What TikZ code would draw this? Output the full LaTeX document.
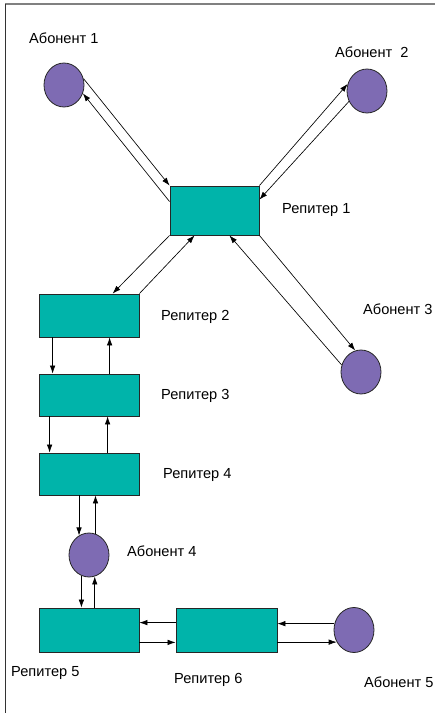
\documentclass[tikz,border=0pt]{standalone}
\usepackage{fontspec}
\setmainfont{Liberation Sans}
\usetikzlibrary{arrows.meta,shapes.geometric}
\definecolor{boxteal}{HTML}{00B4AA}
\definecolor{nodepurple}{HTML}{7E6BB3}
\tikzset{
  rep/.style={draw=black!85,line width=0.8pt,fill=boxteal,rectangle,inner sep=0pt},
  abon/.style={draw=black!85,line width=0.8pt,fill=nodepurple,ellipse,minimum width=40pt,minimum height=44pt,inner sep=0pt},
  lbl/.style={anchor=west,inner sep=0pt,font=\fontsize{14.6}{17}\selectfont},
  arr/.style={line width=0.65pt,-{Latex[length=8pt,width=5.5pt]}},
}
\begin{document}
\begin{tikzpicture}[x=1pt,y=-1pt]
\useasboundingbox (0,0) rectangle (435,713);
\draw[line width=1.5pt,black!50] (5,4) -- (435,4);
\draw[line width=1pt,black!80] (5,4) -- (5,713);
% nodes
\node[rep,minimum width=89pt,minimum height=49pt] (r1) at (214.5,210.5) {};
\node[rep,minimum width=100pt,minimum height=43pt] (r2) at (89,315.5) {};
\node[rep,minimum width=100pt,minimum height=42pt] (r3) at (89,395) {};
\node[rep,minimum width=100pt,minimum height=42pt] (r4) at (89,474) {};
\node[rep,minimum width=100pt,minimum height=44pt] (r5) at (89,630) {};
\node[rep,minimum width=101pt,minimum height=44pt] (r6) at (226.5,630) {};
\node[abon] (a1) at (64,85) {};
\node[abon] (a2) at (367,91) {};
\node[abon] (a3) at (361,372) {};
\node[abon] (a4) at (89,555) {};
\node[abon,minimum height=45pt] (a5) at (354,630) {};
% labels
\node[lbl] (la1) at (29,38) {Абонент 1};
\node[lbl] (la2) at (335,52) {Абонент~ 2};
\node[lbl] (la3) at (363,309) {Абонент 3};
\node[lbl] (la4) at (127,551) {Абонент 4};
\node[lbl] (la5) at (364,682) {Абонент 5};
\node[lbl] (lr1) at (282,210) {Репитер 1};
\node[lbl] (lr2) at (161,317) {Репитер 2};
\node[lbl] (lr3) at (161,396) {Репитер 3};
\node[lbl] (lr4) at (163,475) {Репитер 4};
\node[lbl] (lr5) at (11,673) {Репитер 5};
\node[lbl] (lr6) at (174,680) {Репитер 6};
% Ab1 - R1
\draw[arr] (a1.18) -- (r1.north west);
\draw[arr] ([yshift=-16pt]r1.north west) -- (a1.-24);
% Ab2 - R1
\draw[arr] (r1.north east) -- (a2.160);
\draw[arr] (a2.210) -- ([yshift=-14pt]r1.north east);
% R1 - R2
\draw[arr] (r1.south west) -- ([xshift=74pt]r2.north west);
\draw[arr] (r2.north east) -- ([xshift=25pt]r1.south west);
% R1 - Ab3
\draw[arr] (r1.south east) -- (a3.105);
\draw[arr] (a3.160) -- ([xshift=-30pt]r1.south east);
% R2 - R3
\draw[arr] ([xshift=14pt]r2.south west) -- ([xshift=14pt]r3.north west);
\draw[arr] ([xshift=71pt]r3.north west) -- ([xshift=71pt]r2.south west);
% R3 - R4
\draw[arr] ([xshift=11pt]r3.south west) -- ([xshift=11pt]r4.north west);
\draw[arr] ([xshift=69pt]r4.north west) -- ([xshift=69pt]r3.south west);
% R4 - Ab4
\draw[arr] (a4.117 |- r4.south) -- (a4.117);
\draw[arr] (a4.73) -- (a4.73 |- r4.south);
% Ab4 - R5
\draw[arr] (a4.250) -- (a4.250 |- r5.north);
\draw[arr] (a4.285 |- r5.north) -- (a4.285);
% R5 - R6
\draw[arr] ([yshift=-15pt]r6.north west) -- ([yshift=-15pt]r5.north east);
\draw[arr] ([yshift=10pt]r5.south east) -- ([yshift=10pt]r6.south west);
% R6 - Ab5
\draw[arr] (a5.162) -- (a5.162 -| r6.east);
\draw[arr] (a5.215 -| r6.east) -- (a5.215);
\end{tikzpicture}
\end{document}
